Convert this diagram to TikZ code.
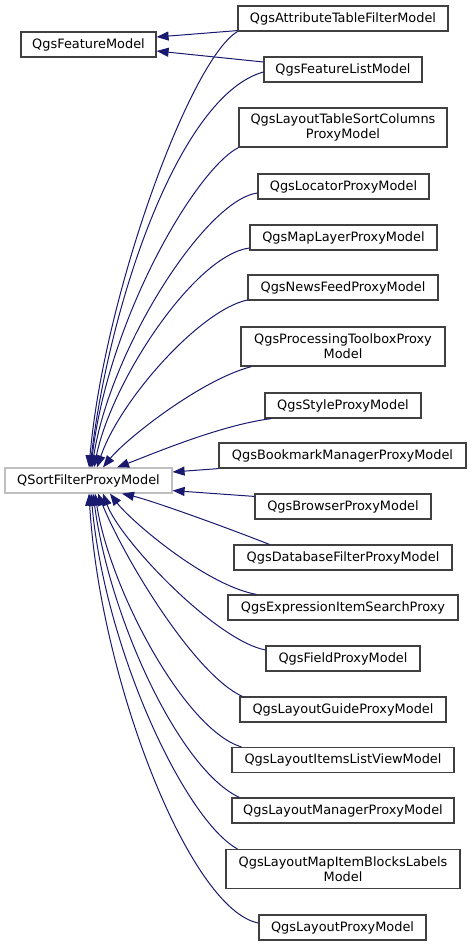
\documentclass[tikz,border=0pt]{standalone}
\usepackage{fontspec}
\setmainfont{DejaVu Sans}
\usetikzlibrary{arrows.meta,calc}
\definecolor{edgeblue}{RGB}{25,25,112}
\definecolor{boxline}{RGB}{64,64,64}
\definecolor{rootline}{RGB}{191,191,191}
\begin{document}
\begin{tikzpicture}[x=1pt,y=-1pt,
  cls/.style={draw=boxline, line width=1.2pt, fill=white, inner sep=0pt,
    minimum height=25pt, align=center, font=\fontsize{12.9}{15}\selectfont},
  tall/.style={minimum height=39pt},
  root/.style={cls, draw=rootline},
  inh/.style={draw=edgeblue, line width=1pt, -{Triangle[length=12pt,width=9pt]}, edgeblue},
]
\useasboundingbox (0,0) rectangle (472,947);

% base classes
\node[cls, minimum width=135pt] (fm) at (88.5,44.5) {QgsFeatureModel};
\node[root, minimum width=167pt] (qsf) at (88.5,480.5) {QSortFilterProxyModel};

% derived classes
\node[cls, minimum width=210pt] (attr) at (343,18.5) {QgsAttributeTableFilterModel};
\node[cls, minimum width=158pt] (flist) at (343,69.5) {QgsFeatureListModel};
\node[cls, tall, minimum width=208pt] (lts) at (343,127.5) {QgsLayoutTableSortColumns\\ProxyModel};
\node[cls, minimum width=171pt] (loc) at (343.5,186.5) {QgsLocatorProxyModel};
\node[cls, minimum width=187pt] (map) at (343.5,237.5) {QgsMapLayerProxyModel};
\node[cls, minimum width=190pt] (news) at (343,287.5) {QgsNewsFeedProxyModel};
\node[cls, tall, minimum width=204pt] (proc) at (343,346.5) {QgsProcessingToolboxProxy\\Model};
\node[cls, minimum width=156pt] (style) at (343,405.5) {QgsStyleProxyModel};
\node[cls, minimum width=247pt] (book) at (342.5,455.5) {QgsBookmarkManagerProxyModel};
\node[cls, minimum width=176pt] (browser) at (343,506.5) {QgsBrowserProxyModel};
\node[cls, minimum width=218pt] (db) at (343,557.5) {QgsDatabaseFilterProxyModel};
\node[cls, minimum width=230pt] (expr) at (343,607.5) {QgsExpressionItemSearchProxy};
\node[cls, minimum width=154pt] (field) at (343,658.5) {QgsFieldProxyModel};
\node[cls, minimum width=206pt] (guide) at (343,709.5) {QgsLayoutGuideProxyModel};
\node[cls, minimum width=222pt] (items) at (343,760) {QgsLayoutItemsListViewModel};
\node[cls, minimum width=222pt] (mgr) at (343,810.5) {QgsLayoutManagerProxyModel};
\node[cls, tall, minimum width=234pt] (blocks) at (343,869) {QgsLayoutMapItemBlocksLabels\\Model};
\node[cls, minimum width=167pt] (lproxy) at (342.5,927.5) {QgsLayoutProxyModel};

% to QgsFeatureModel
\draw[inh] ($(attr.south west)+(0,-1)$) -- ($(fm.east)+(0,-7.5)$);
\draw[inh] ($(flist.west)+(0,-7.5)$) -- ($(fm.east)+(0,6.5)$);

% to QSortFilterProxyModel (from above)
\draw[inh] (attr.south west) .. controls (190,60) and (104,295) .. ($(qsf.north)+(0.5,0)$);
\draw[inh] ($(flist.west)+(0,2.5)$) .. controls (180,95) and (110,300) .. ($(qsf.north)+(1.5,0)$);
\draw[inh] (lts.south west) .. controls (195,170) and (108,320) .. ($(qsf.north)+(2.5,0)$);
\draw[inh] ($(loc.west)+(0,6.5)$) .. controls (205,200) and (110,350) .. ($(qsf.north)+(3.5,0)$);
\draw[inh] ($(map.west)+(0,10.5)$) .. controls (195,255) and (112,380) .. ($(qsf.north)+(5.5,0)$);
\draw[inh] ($(news.west)+(0,12.5)$) .. controls (200,310) and (120,400) .. ($(qsf.north)+(8.5,0)$);
\draw[inh] ($(proc.south west)+(11,0)$) .. controls (200,380) and (125,440) .. ($(qsf.north)+(14.5,0)$);
\draw[inh] ($(style.south west)+(7,0)$) .. controls (220,425) and (150,455) .. ($(qsf.north)+(28.5,0)$);
\draw[inh] (book.south west) -- ($(qsf.east)+(0,-8.5)$);

% to QSortFilterProxyModel (from below)
\draw[inh] ($(browser.north west)+(0,3)$) -- ($(qsf.south east)+(0,-3)$);
\draw[inh] ($(db.north west)+(36,0)$) .. controls (220,525) and (150,500) .. ($(qsf.south)+(33.5,0)$);
\draw[inh] ($(expr.north west)+(29,0)$) .. controls (205,585) and (130,520) .. ($(qsf.south)+(21.5,0)$);
\draw[inh] ($(field.west)+(0,-8.5)$) .. controls (215,640) and (120,540) .. ($(qsf.south)+(14.5,0)$);
\draw[inh] ($(guide.north west)+(3,0)$) .. controls (195,675) and (125,560) .. ($(qsf.south)+(9.5,0)$);
\draw[inh] ($(items.north west)+(10,0)$) .. controls (185,730) and (110,590) .. ($(qsf.south)+(6.5,0)$);
\draw[inh] ($(mgr.north west)+(8,0)$) .. controls (180,770) and (110,620) .. ($(qsf.south)+(4.5,0)$);
\draw[inh] ($(blocks.north west)+(12,0)$) .. controls (185,820) and (105,650) .. ($(qsf.south)+(2.5,0)$);
\draw[inh] ($(lproxy.west)+(0,-4.5)$) .. controls (190,910) and (100,680) .. ($(qsf.south)+(0.5,0)$);
\end{tikzpicture}
\end{document}
